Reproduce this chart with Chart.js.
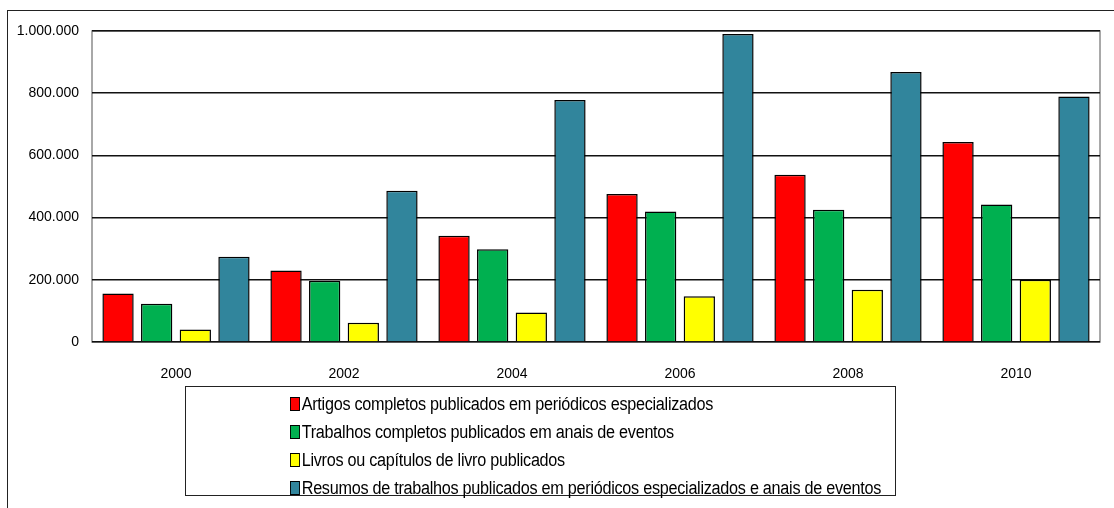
<!DOCTYPE html>
<html>
<head>
<meta charset="utf-8">
<script src="https://cdn.jsdelivr.net/npm/chart.js@4.4.1/dist/chart.umd.min.js"></script>
<style>
  body { margin: 0; background: #fff; }
  #wrap { position: relative; width: 1114px; height: 508px; overflow: hidden; }
  #frame { position: absolute; left: 7px; top: 10px; width: 1120px; height: 520px; border: 1.5px solid #222; box-sizing: border-box; }
  #legend { position: absolute; left: 185px; top: 386px; width: 711px; height: 110px; border: 1.5px solid #222; box-sizing: border-box; }
  .item { position: absolute; left: 104px; height: 22px; font-family: "Liberation Sans Narrow", "Liberation Sans", sans-serif; font-size: 18px; color: #000; white-space: nowrap; letter-spacing: -0.3px; transform: scaleX(0.9); transform-origin: left center; }
  .item span.box { display: inline-block; width: 9px; height: 12px; border: 1px solid #000; margin-right: 2px; vertical-align: -1px; }
</style>
</head>
<body>
<div id="wrap">
  <div id="frame"></div>
  <canvas id="chart" width="1114" height="508"></canvas>
  <div id="legend"></div>
</div>
<script>
let years = ["2000", "2002", "2004", "2006", "2008", "2010"];

let artigos = [156000, 230000, 342000, 476000, 538000, 643000];
let trabalhos = [123000, 197000, 298000, 420000, 425000, 442000];
let livros = [40000, 62000, 95000, 147000, 168000, 200000];
let resumos = [274000, 486000, 778000, 990000, 868000, 789000];

let seriesNames = [
    "Artigos completos publicados em periódicos especializados",
    "Trabalhos completos publicados em anais de eventos",
    "Livros ou capítulos de livro publicados",
    "Resumos de trabalhos publicados em periódicos especializados e anais de eventos"
];
let barColors = ["#FF0000", "#00B050", "#FFFF00", "#31859C"];

let yTicks = [0, 200000, 400000, 600000, 800000, 1000000];

let allValues = [artigos, trabalhos, livros, resumos];

let datasets = [];
for (let i = 0; i < allValues.length; i++) {
    datasets.push({
        label: seriesNames[i],
        data: allValues[i],
        backgroundColor: barColors[i],
        borderColor: "#000",
        borderWidth: 1.5,
        barPercentage: 0.81,
        categoryPercentage: 0.92
    });
}

// gray frame around the plot area
const plotFrame = {
    id: "plotFrame",
    beforeDraw(chart) {
        const a = chart.chartArea;
        const ctx = chart.ctx;
        ctx.save();
        ctx.strokeStyle = "#8c8c8c";
        ctx.lineWidth = 1.5;
        ctx.strokeRect(a.left, a.top, a.right - a.left, a.bottom - a.top);
        ctx.restore();
    }
};

new Chart("chart", {
    type: "bar",
    data: { labels: years, datasets: datasets },
    plugins: [plotFrame],
    options: {
        responsive: false,
        animation: false,
        layout: { padding: { left: 0, top: 31, right: 14, bottom: 126 } },
        plugins: { legend: { display: false }, tooltip: { enabled: false } },
        scales: {
            x: {
                grid: { display: false },
                border: { display: false },
                ticks: { color: "#000", padding: 16, font: { family: "Liberation Sans", size: 14 } },
                afterFit(scale) { scale.height = 40; }
            },
            y: {
                min: 0,
                max: 1000000,
                afterBuildTicks(scale) { scale.ticks = yTicks.map(v => ({ value: v })); },
                grid: { color: "#111", lineWidth: 1.5, drawTicks: false },
                border: { display: false },
                ticks: {
                    color: "#000",
                    padding: 13,
                    font: { family: "Liberation Sans", size: 14 },
                    callback: v => v.toString().replace(/\B(?=(\d{3})+(?!\d))/g, ".")
                },
                afterFit(scale) { scale.width = 92; }
            }
        }
    }
});

// legend box
let legend = document.getElementById("legend");
let rowTops = [7, 35, 63, 91];
for (let i = 0; i < seriesNames.length; i++) {
    let d = document.createElement("div");
    d.className = "item";
    d.style.top = rowTops[i] + "px";
    d.innerHTML = '<span class="box" style="background:' + barColors[i] + '"></span>' + seriesNames[i];
    legend.appendChild(d);
}
</script>
</body>
</html>
